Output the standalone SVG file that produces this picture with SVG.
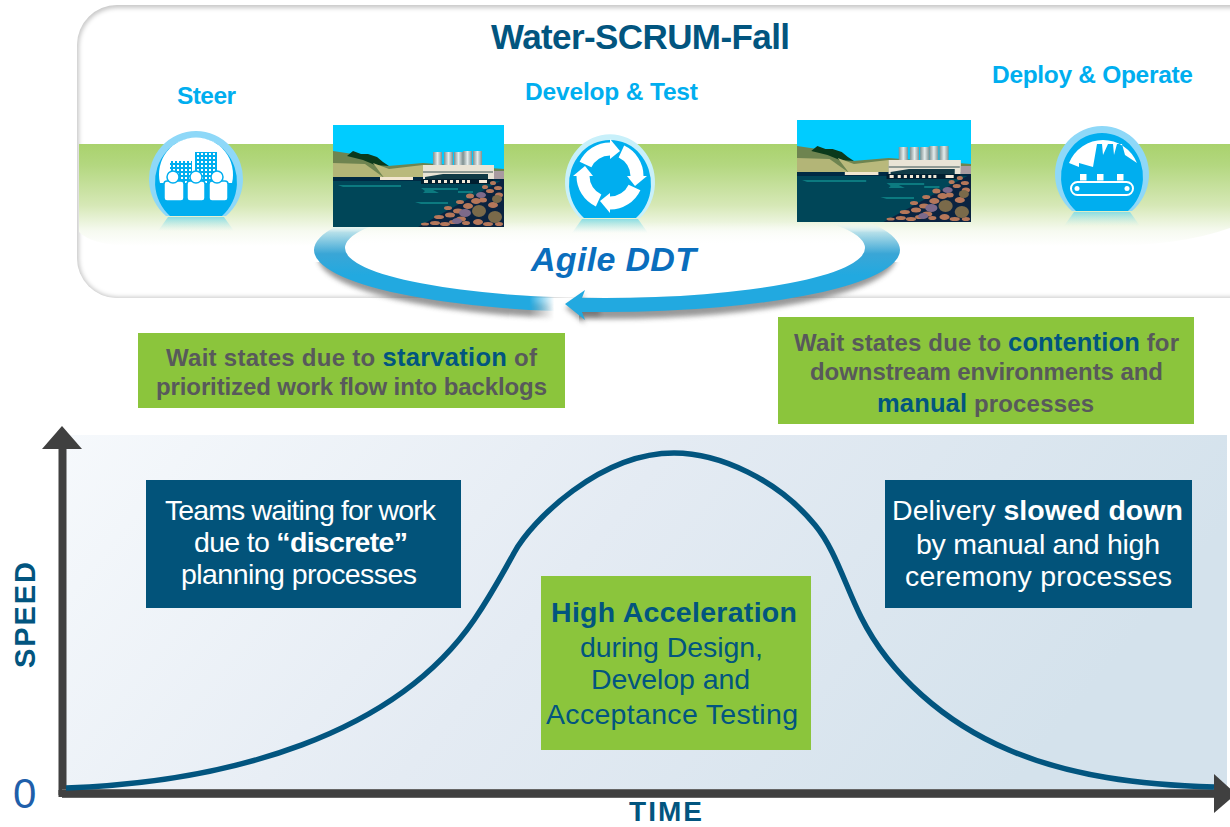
<svg xmlns="http://www.w3.org/2000/svg" width="1230" height="827" viewBox="0 0 1230 827">
<style>
text{font-family:"Liberation Sans",Arial,sans-serif}
.b{font-weight:bold}
.sec{font-size:24.5px;font-weight:bold;fill:#00aeef}
.wait{font-size:24px;font-weight:bold;fill:#58595b}
.hl{fill:#02557f;font-size:25.5px}
.wht{font-size:28.5px;fill:#fff}
.grn{font-size:28.5px;fill:#02557f}
.ax{font-weight:bold;fill:#02557f}
.dk{fill:#02537a}
.gr{fill:#8bc53c}
.bl{fill:#00aeef}
.axis{fill:#404040}
.rk{fill:#b5775a}
.rk2{fill:#7a6a4a}
.rk3{fill:#7d6a8a}
</style>
<defs>
<linearGradient id="band" x1="0" y1="0" x2="0" y2="1">
<stop offset="0" stop-color="#a9d26d"/><stop offset=".2" stop-color="#b3d77f"/><stop offset=".6" stop-color="#d6e8b6"/><stop offset=".85" stop-color="#f6faf0"/><stop offset="1" stop-color="#fff"/>
</linearGradient>
<linearGradient id="chart" x1="0" y1="0" x2="1" y2=".25">
<stop offset="0" stop-color="#f6f9fc"/><stop offset=".5" stop-color="#e4ebf3"/><stop offset="1" stop-color="#d4e2ec"/>
</linearGradient>
<linearGradient id="ring" gradientUnits="userSpaceOnUse" x1="0" y1="222" x2="0" y2="275">
<stop offset="0" stop-color="#fff" stop-opacity="0"/><stop offset=".2" stop-color="#b4dfe9"/><stop offset=".6" stop-color="#3aa6d6"/><stop offset="1" stop-color="#22a9e0"/>
</linearGradient>
<linearGradient id="inner" gradientUnits="userSpaceOnUse" x1="0" y1="222" x2="0" y2="245">
<stop offset="0" stop-color="#fff" stop-opacity="0"/><stop offset="1" stop-color="#fff"/>
</linearGradient>
<linearGradient id="fadeX" gradientUnits="userSpaceOnUse" x1="300" y1="0" x2="920" y2="0">
<stop offset=".37" stop-color="#fff"/><stop offset=".41" stop-color="#000"/><stop offset=".45" stop-color="#000"/><stop offset=".4501" stop-color="#fff"/>
</linearGradient>
<linearGradient id="refl" x1="0" y1="0" x2="0" y2="1">
<stop offset="0" stop-color="#7fdbe6" stop-opacity=".9"/><stop offset="1" stop-color="#bfeaea" stop-opacity="0"/>
</linearGradient>
<linearGradient id="silo" x1="0" y1="0" x2="1" y2="0">
<stop offset="0" stop-color="#7f9090"/><stop offset=".5" stop-color="#e4ecec"/><stop offset="1" stop-color="#7f9090"/>
</linearGradient>
<mask id="ringMask" maskUnits="userSpaceOnUse" x="280" y="190" width="660" height="150">
<rect x="280" y="190" width="660" height="150" fill="url(#fadeX)"/>
</mask>
<filter id="blur2" x="-10%" y="-30%" width="120%" height="160%"><feGaussianBlur stdDeviation="2.5"/></filter>
<filter id="blur1" x="-5%" y="-5%" width="110%" height="110%"><feGaussianBlur stdDeviation="2"/></filter>
<clipPath id="panelClip"><rect x="77" y="5" width="1200" height="293" rx="40"/></clipPath>
<clipPath id="lowerClip"><rect x="280" y="262" width="660" height="80"/></clipPath>
<pattern id="win" width="4" height="4" patternUnits="userSpaceOnUse"><rect width="4" height="4" fill="#00aeef"/><rect x="1" y="1" width="2" height="2" fill="#fff"/></pattern>
<path id="outer" d="M-30 0A47 48 0 1 1 30 0Z" fill="#8ed8f8"/>
<path id="innerC" d="M-26 0A41 44 0 1 1 26 0Z" class="bl"/>
<path id="reflect" d="M-28 1H28L38 15H-38Z" fill="url(#refl)"/>
<g id="arrowSeg">
<path d="M-24.5 -49.4A27 27 0 0 1 0 -65" fill="none" stroke="#fff" stroke-width="13"/>
<path d="M0 -55L0 -75L10 -63Z" fill="#fff"/>
</g>
<symbol id="dam" viewBox="0 0 171 102" preserveAspectRatio="none">
<rect width="171" height="102" fill="#00ccff"/>
<path d="M0 26L20 29L40 38L55 41L90 38L171 44V60H0Z" fill="#6e8450"/>
<path d="M14 31L20 26L28 29L35 29L44 32L50 37L56 41L42 40L30 35Z" fill="#0b3a1c"/>
<path d="M0 38L32 39L50 52L0 52Z" fill="#b3b577"/>
<path d="M40 38L56 44L90 40V54H52Z" fill="#b9b97c"/>
<rect y="52" width="171" height="4" fill="#002a44"/>
<rect y="56" width="171" height="46" fill="#004658"/>
<path d="M5 60H68V62H10ZM88 63H125V65H100L106 68H90L92 66ZM82 77H115V79H88ZM125 66H140V68H125Z" fill="#0c7a80"/>
<rect x="47" y="52" width="33" height="3" fill="#f2e6d0"/>
<rect x="100" y="27" width="9" height="14" fill="url(#silo)"/><rect x="111" y="27" width="9" height="14" fill="url(#silo)"/><rect x="121" y="27" width="9" height="14" fill="url(#silo)"/><rect x="130" y="26" width="9" height="15" fill="url(#silo)"/><rect x="140" y="26" width="9" height="15" fill="url(#silo)"/>
<rect x="90" y="40" width="71" height="14" fill="#e9e4d6"/>
<rect x="161" y="46" width="10" height="8" fill="#a89aa0"/>
<path d="M90 46H160V48H90Z" fill="#8f9a94"/>
<path d="M92 52L110 49H155V54H92Z" fill="#103a46"/>
<path d="M88 54H160V59H88Z" fill="#001f30"/>
<path d="M91 55h4v3h-4zM99 55h3v3h-3zM105 55h3v3h-3zM111 55h3v3h-3zM117 55h3v3h-3zM123 55h3v3h-3zM129 55h3v3h-3zM134 55h3v3h-3zM146 55h8v3h-8z" fill="#f3ead8"/>
<path d="M85 102L171 54V102Z" fill="#0a2340"/>
<g class="rk">
<ellipse cx="92" cy="99" rx="4" ry="1.5"/><ellipse cx="102" cy="98" rx="5" ry="2"/><ellipse cx="112" cy="99" rx="5" ry="2"/><ellipse cx="106" cy="92" rx="5" ry="2"/><ellipse cx="117" cy="90" rx="5" ry="2.5"/><ellipse cx="125" cy="86" rx="5" ry="2.500"/><ellipse cx="135" cy="81" rx="5" ry="3"/><ellipse cx="143" cy="76" rx="5" ry="3"/><ellipse cx="150" cy="75" rx="4" ry="2.5"/><ellipse cx="157" cy="66" rx="4" ry="2"/><ellipse cx="165" cy="63" rx="4" ry="2"/><ellipse cx="128" cy="94" rx="5" ry="2.5"/><ellipse cx="145" cy="97" rx="5" ry="3"/><ellipse cx="160" cy="80" rx="5" ry="3"/><ellipse cx="152" cy="62" rx="3" ry="2"/><ellipse cx="166" cy="70" rx="4" ry="2.5"/><ellipse cx="133" cy="98" rx="4" ry="2"/><ellipse cx="120" cy="97" rx="4" ry="2"/><ellipse cx="137" cy="71" rx="4" ry="2.5"/><ellipse cx="127" cy="77" rx="4" ry="2"/><ellipse cx="115" cy="83" rx="4" ry="2"/><ellipse cx="155" cy="99" rx="5" ry="2"/><ellipse cx="166" cy="99" rx="4" ry="2"/><ellipse cx="160" cy="58" rx="3" ry="2"/>
</g>
<g class="rk2">
<ellipse cx="146" cy="86" rx="7" ry="6"/><ellipse cx="162" cy="92" rx="7" ry="6"/><ellipse cx="164" cy="74" rx="5" ry="4"/>
</g>
<g class="rk3">
<ellipse cx="132" cy="88" rx="6" ry="4"/><ellipse cx="148" cy="70" rx="5" ry="3"/><ellipse cx="124" cy="96" rx="5" ry="3"/>
</g>
</symbol>
</defs>

<g id="panel">
<rect x="77" y="5" width="1200" height="293" rx="40" fill="#c8c8c8"/>
<g clip-path="url(#panelClip)"><rect x="79" y="8" width="1195" height="289" rx="38" fill="#fff" filter="url(#blur1)"/></g>
<path d="M79 144H1230V228Q1180 246 1100 246H130Q92 245 79 232Z" fill="url(#band)"/>
</g>

<g id="connectors">
<g id="loop">
<g clip-path="url(#lowerClip)"><path d="M318 252a289 62 0 1 0 578 0a289 62 0 1 0 -578 0ZM345 250a260 50 0 1 1 520 0a260 50 0 1 1 -520 0Z" fill="#555" fill-rule="evenodd" opacity=".6" filter="url(#blur2)" transform="translate(0 5)" mask="url(#ringMask)"/></g>
<ellipse cx="605" cy="248" rx="260" ry="50" fill="url(#inner)"/>
<path d="M314 250a293 62 0 1 0 586 0a293 62 0 1 0 -586 0ZM345 248a260 50 0 1 1 520 0a260 50 0 1 1 -520 0Z" fill="url(#ring)" fill-rule="evenodd" mask="url(#ringMask)"/>
<path d="M565 304L585 290L582 298H600V312H582L585 320Z" fill="#555" opacity=".5" filter="url(#blur2)" transform="translate(0 4)"/>
<path d="M565 304L585 290L582 298H610V312H582L585 320Z" fill="#22a9e0"/>
</g>
</g>

<g id="dam-left"><use href="#dam" x="333" y="125" width="171" height="102"/></g>
<g id="dam-right"><use href="#dam" x="797" y="120" width="174" height="102"/></g>

<g id="steer" transform="translate(196 216)">
<use href="#outer"/><use href="#innerC"/><use href="#reflect"/>
<path d="M-36 -33A37 37 0 1 1 36 -33Z" fill="#fff"/>
<rect x="-26" y="-55" width="22" height="22" fill="url(#win)"/>
<rect x="-1" y="-64" width="22" height="32" fill="url(#win)"/>
<g fill="#fff" stroke="#00aeef" stroke-width="1.5">
<rect x="-32" y="-35" width="20" height="20" rx="3"/><rect x="-9" y="-35" width="18" height="20" rx="3"/><rect x="13" y="-35" width="19" height="20" rx="3"/>
<circle cx="-23" cy="-39" r="6"/><circle cx="0" cy="-39" r="6"/><circle cx="21" cy="-39" r="6"/>
</g>
</g>

<g id="develop" transform="translate(610 218)">
<path d="M-30 0A45 48 0 1 1 30 0Z" fill="#c8f0fa"/>
<path d="M-26 0A41 44 0 1 1 26 0Z" class="bl"/>
<use href="#reflect"/>
<g transform="translate(0 -4)">
<use href="#arrowSeg"/>
<use href="#arrowSeg" transform="rotate(90 0 -38)"/>
<use href="#arrowSeg" transform="rotate(180 0 -38)"/>
<use href="#arrowSeg" transform="rotate(270 0 -38)"/>
</g>
</g>

<g id="deploy" transform="translate(1102 211)">
<use href="#outer"/><use href="#innerC"/><use href="#reflect"/>
<path d="M-33 -48L-23 -44L-23 -48L-9 -44L-5 -67H0L1 -56L6 -67H11L12 -56L15 -67H20L23 -56L35 -48A37 38 0 0 0 -33 -48Z" fill="#fff"/>
<rect x="-22" y="-37" width="6.5" height="6.5" fill="#fff"/><rect x="-5" y="-37" width="6.5" height="6.5" fill="#fff"/><rect x="15" y="-37" width="6.5" height="6.5" fill="#fff"/>
<rect x="-31" y="-29" width="62" height="13" rx="6.5" fill="#00aeef" stroke="#fff" stroke-width="2"/>
<circle cx="-25" cy="-22.5" r="2.5" fill="#fff"/><circle cx="25" cy="-22.5" r="2.5" fill="#fff"/>
</g>

<g id="headings">
<text x="491" y="49" class="b" font-size="35" fill="#02557f" textLength="299">Water-SCRUM-Fall</text>
<text x="177" y="104" class="sec" textLength="59">Steer</text>
<text x="525" y="100" class="sec" textLength="173">Develop &amp; Test</text>
<text x="992" y="83" class="sec" textLength="201">Deploy &amp; Operate</text>
<text x="531" y="271" class="b" font-size="34" font-style="italic" fill="#0a6ebd" textLength="165">Agile DDT</text>
</g>

<g id="wait-starvation">
<rect class="gr" x="138" y="333" width="427" height="75"/>
<text x="166" y="366" class="wait" textLength="371">Wait states due to <tspan class="hl">starvation</tspan> of</text>
<text x="156" y="395" class="wait" textLength="391">prioritized work flow into backlogs</text>
</g>

<g id="wait-contention">
<rect class="gr" x="778" y="317" width="416" height="107"/>
<text x="794" y="351" class="wait" textLength="385">Wait states due to <tspan class="hl">contention</tspan> for</text>
<text x="810" y="380" class="wait" textLength="353">downstream environments and</text>
<text x="877" y="412" class="wait" textLength="217"><tspan class="hl">manual</tspan> processes</text>
</g>

<g id="chart">
<rect x="62" y="435" width="1165" height="355" fill="url(#chart)"/>
</g>

<g id="axes">
<rect class="axis" x="58.500" y="445" width="8" height="350"/>
<path class="axis" d="M62 426L82 449H42Z"/>
<rect x="62" y="789" width="1154" height="9" fill="#666"/>
<rect class="axis" x="58.500" y="790" width="1157" height="7"/>
<path class="axis" d="M1214 774L1236 794L1214 813Z"/>
<path id="curve" d="M66 788C230 782 395 735 474 620C491 595 503 573 514 553C532 520 600 453 674 453C720 453 778 480 815 525C835 549 845 585 861 617C890 675 945 723 1009 750C1070 776 1140 785 1214 787" fill="none" stroke="#02557f" stroke-width="5.500"/>
</g>

<g id="box-teams">
<rect class="dk" x="146" y="480" width="315" height="128"/>
<text x="165" y="520" class="wht" textLength="271">Teams waiting for work</text>
<text x="194" y="552" class="wht" textLength="214">due to <tspan class="b">“discrete”</tspan></text>
<text x="181" y="584" class="wht" textLength="236">planning processes</text>
</g>

<g id="box-delivery">
<rect class="dk" x="885" y="480" width="307" height="128"/>
<text x="892" y="520" class="wht" textLength="291">Delivery <tspan class="b">slowed down</tspan></text>
<text x="916" y="554" class="wht" textLength="244">by manual and high</text>
<text x="905" y="586" class="wht" textLength="267">ceremony processes</text>
</g>

<g id="box-accel">
<rect class="gr" x="541" y="576" width="270" height="174"/>
<text x="551" y="622" class="grn b" textLength="246">High Acceleration</text>
<text x="580" y="657" class="grn" textLength="183">during Design,</text>
<text x="591" y="689" class="grn" textLength="159">Develop and</text>
<text x="546" y="724" class="grn" textLength="252">Acceptance Testing</text>
</g>

<g id="labels">
<text transform="translate(35 668) rotate(-90)" class="ax" font-size="29" textLength="106">SPEED</text>
<text x="629" y="821" class="ax" font-size="28" textLength="73">TIME</text>
<text x="13" y="808" font-size="42" fill="#1f5faa">0</text>
</g>
</svg>
